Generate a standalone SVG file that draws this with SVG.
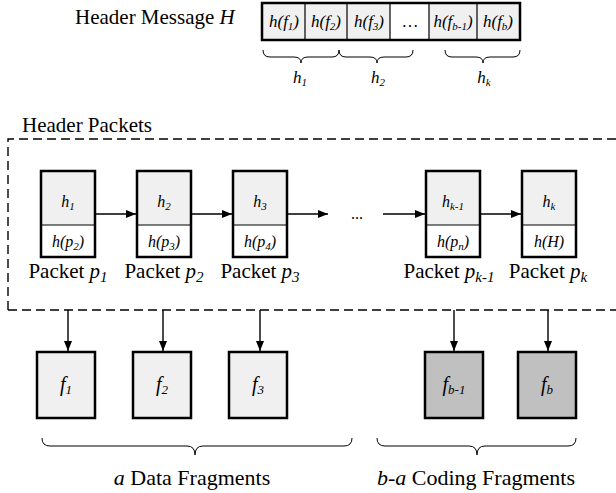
<svg xmlns="http://www.w3.org/2000/svg" width="616" height="493" viewBox="0 0 616 493" font-family="'Liberation Serif', 'Times New Roman', serif">
<defs>
<marker id="ah" viewBox="0 0 10 8" refX="10" refY="4" markerWidth="10" markerHeight="8" markerUnits="userSpaceOnUse" orient="auto">
<path d="M0,0 L10,4 L0,8 z" fill="#000"/>
</marker>
</defs>
<style>
text{font-family:'Liberation Serif','Times New Roman',serif;fill:#000}
.lbl{font-size:21px}
.it{font-style:italic}
.cell{font-size:16px;font-style:italic}
.frag{font-size:20px;font-style:italic}
.sub{font-size:11px}
.box{stroke:#000;stroke-width:2.5}
.thin{stroke:#000;stroke-width:1.2;fill:none}
.brace{stroke:#000;stroke-width:1;fill:none}
.light{fill:#f0f0f0}
.dark{fill:#c0c0c0}
.conn{stroke:#000;stroke-width:1.4;fill:none;marker-end:url(#ah)}
.dash{stroke:#000;stroke-width:1.4;fill:none;stroke-dasharray:9 5}
</style>
<rect width="616" height="493" fill="#fff"/>

<g id="header-message">
<text class="lbl" x="75" y="24">Header Message <tspan class="it">H</tspan></text>
<rect x="262" y="3" width="258" height="37" class="light"/>
<rect x="390" y="3" width="39" height="37" fill="#fff"/>
<path class="thin" d="M305,3V40M347,3V40M390,3V40M429,3V40M477,3V40"/>
<rect x="262" y="3" width="258" height="37" fill="none" class="box"/>
<g class="cell" text-anchor="middle" style="font-size:17px">
<text x="284" y="27">h(f<tspan class="sub" dy="3">1</tspan><tspan dy="-3">)</tspan></text>
<text x="326" y="27">h(f<tspan class="sub" dy="3">2</tspan><tspan dy="-3">)</tspan></text>
<text x="369" y="27">h(f<tspan class="sub" dy="3">3</tspan><tspan dy="-3">)</tspan></text>
<text x="410" y="27" font-style="normal">…</text>
<text x="453" y="27">h(f<tspan class="sub" dy="3">b-1</tspan><tspan dy="-3">)</tspan></text>
<text x="498" y="27">h(f<tspan class="sub" dy="3">b</tspan><tspan dy="-3">)</tspan></text>
</g>
<path class="brace" d="M263,50 Q263,57 270,57 L294,57 Q301,57 301,63 Q301,57 308,57 L332,57 Q339,57 339,50"/>
<path class="brace" d="M339,50 Q339,57 346,57 L370,57 Q377,57 377,63 Q377,57 384,57 L406,57 Q413,57 413,50"/>
<path class="brace" d="M445,50 Q445,57 452,57 L476,57 Q483,57 483,63 Q483,57 490,57 L513,57 Q520,57 520,50"/>
<g class="cell" text-anchor="middle" style="font-size:17px">
<text x="300" y="83">h<tspan class="sub" dy="3">1</tspan></text>
<text x="378" y="83">h<tspan class="sub" dy="3">2</tspan></text>
<text x="484" y="83">h<tspan class="sub" dy="3">k</tspan></text>
</g>
</g>

<g id="header-packets">
<text class="lbl" x="22" y="132">Header Packets</text>
<path class="dash" d="M8,310 V139 H620 M8,310 H620"/>
</g>

<g id="packet-p1">
<rect x="41" y="171" width="54" height="54" class="light"/>
<rect x="41" y="225" width="54" height="32" fill="#fff"/>
<path class="thin" d="M41,225H95"/>
<rect x="41" y="171" width="54" height="86" fill="none" class="box"/>
<text class="cell" x="68" y="207" text-anchor="middle">h<tspan class="sub" dy="3">1</tspan></text>
<text class="cell" x="68" y="247" text-anchor="middle">h(p<tspan class="sub" dy="3">2</tspan><tspan dy="-3">)</tspan></text>
<text class="lbl" x="68" y="278" text-anchor="middle">Packet <tspan class="it">p</tspan><tspan class="it" dy="4" style="font-size:15px">1</tspan></text>
</g>
<g id="packet-p2">
<rect x="137" y="171" width="54" height="54" class="light"/>
<rect x="137" y="225" width="54" height="32" fill="#fff"/>
<path class="thin" d="M137,225H191"/>
<rect x="137" y="171" width="54" height="86" fill="none" class="box"/>
<text class="cell" x="164" y="207" text-anchor="middle">h<tspan class="sub" dy="3">2</tspan></text>
<text class="cell" x="164" y="247" text-anchor="middle">h(p<tspan class="sub" dy="3">3</tspan><tspan dy="-3">)</tspan></text>
<text class="lbl" x="164" y="278" text-anchor="middle">Packet <tspan class="it">p</tspan><tspan class="it" dy="4" style="font-size:15px">2</tspan></text>
</g>
<g id="packet-p3">
<rect x="233" y="171" width="54" height="54" class="light"/>
<rect x="233" y="225" width="54" height="32" fill="#fff"/>
<path class="thin" d="M233,225H287"/>
<rect x="233" y="171" width="54" height="86" fill="none" class="box"/>
<text class="cell" x="260" y="207" text-anchor="middle">h<tspan class="sub" dy="3">3</tspan></text>
<text class="cell" x="260" y="247" text-anchor="middle">h(p<tspan class="sub" dy="3">4</tspan><tspan dy="-3">)</tspan></text>
<text class="lbl" x="260" y="278" text-anchor="middle">Packet <tspan class="it">p</tspan><tspan class="it" dy="4" style="font-size:15px">3</tspan></text>
</g>
<g id="ellipsis">
<text class="lbl" x="357" y="219" text-anchor="middle" style="font-size:16px">...</text>
</g>
<g id="packet-pk-1">
<rect x="426" y="171" width="54" height="54" class="light"/>
<rect x="426" y="225" width="54" height="32" fill="#fff"/>
<path class="thin" d="M426,225H480"/>
<rect x="426" y="171" width="54" height="86" fill="none" class="box"/>
<text class="cell" x="453" y="207" text-anchor="middle">h<tspan class="sub" dy="3">k-1</tspan></text>
<text class="cell" x="453" y="247" text-anchor="middle">h(p<tspan class="sub" dy="3">n</tspan><tspan dy="-3">)</tspan></text>
<text class="lbl" x="449" y="278" text-anchor="middle">Packet <tspan class="it">p</tspan><tspan class="it" dy="4" style="font-size:15px">k-1</tspan></text>
</g>
<g id="packet-pk">
<rect x="522" y="171" width="54" height="54" class="light"/>
<rect x="522" y="225" width="54" height="32" fill="#fff"/>
<path class="thin" d="M522,225H576"/>
<rect x="522" y="171" width="54" height="86" fill="none" class="box"/>
<text class="cell" x="549" y="207" text-anchor="middle">h<tspan class="sub" dy="3">k</tspan></text>
<text class="cell" x="549" y="247" text-anchor="middle">h(H)</text>
<text class="lbl" x="548" y="278" text-anchor="middle">Packet <tspan class="it">p</tspan><tspan class="it" dy="4" style="font-size:15px">k</tspan></text>
</g>

<g id="frag-f1">
<rect x="37" y="352" width="58" height="66" class="light box"/>
<text class="frag" x="66" y="391" text-anchor="middle">f<tspan dy="3" style="font-size:13px">1</tspan></text>
</g>
<g id="frag-f2">
<rect x="133" y="352" width="58" height="66" class="light box"/>
<text class="frag" x="162" y="391" text-anchor="middle">f<tspan dy="3" style="font-size:13px">2</tspan></text>
</g>
<g id="frag-f3">
<rect x="229" y="352" width="58" height="66" class="light box"/>
<text class="frag" x="258" y="391" text-anchor="middle">f<tspan dy="3" style="font-size:13px">3</tspan></text>
</g>
<g id="frag-fb-1">
<rect x="425" y="352" width="58" height="66" class="dark box"/>
<text class="frag" x="454" y="391" text-anchor="middle">f<tspan dy="3" style="font-size:13px">b-1</tspan></text>
</g>
<g id="frag-fb">
<rect x="518" y="352" width="58" height="66" class="dark box"/>
<text class="frag" x="547" y="391" text-anchor="middle">f<tspan dy="3" style="font-size:13px">b</tspan></text>
</g>

<g id="connectors">
<path class="conn" d="M96,214H136"/>
<path class="conn" d="M192,214H232"/>
<path class="conn" d="M288,214H328"/>
<path class="conn" d="M383,214H425"/>
<path class="conn" d="M481,214H521"/>
<path class="conn" d="M68,310V351"/>
<path class="conn" d="M163,310V351"/>
<path class="conn" d="M260,310V351"/>
<path class="conn" d="M454,310V351"/>
<path class="conn" d="M548,310V351"/>
</g>

<g id="bottom-braces">
<path class="brace" d="M42,438 Q42,446 50,446 L187,446 Q195,446 195,455 Q195,446 203,446 L344,446 Q352,446 352,438"/>
<path class="brace" d="M377,438 Q377,446 385,446 L469,446 Q477,446 477,455 Q477,446 485,446 L568,446 Q576,446 576,438"/>
<text class="lbl" x="192" y="485" text-anchor="middle" style="font-size:22px"><tspan class="it">a</tspan> Data Fragments</text>
<text class="lbl" x="476" y="485" text-anchor="middle" style="font-size:22px"><tspan class="it">b-a</tspan> Coding Fragments</text>
</g>
</svg>
